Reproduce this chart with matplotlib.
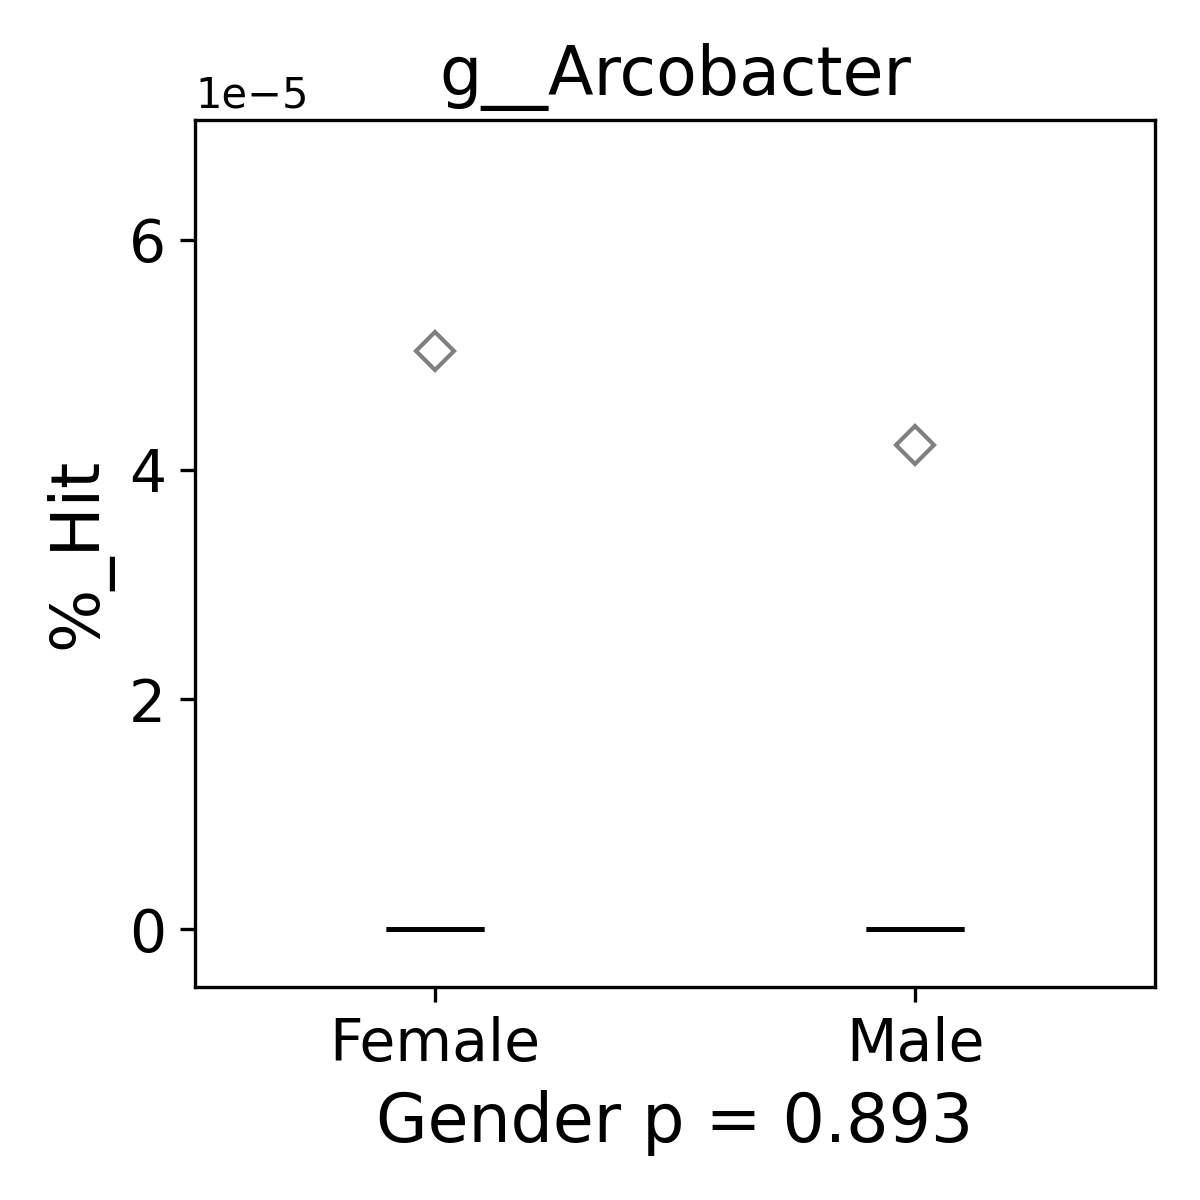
import matplotlib
matplotlib.use('Agg')
import matplotlib.pyplot as plt

groups = ['Female', 'Male']
female_hit = [0.0, 0.0, 0.0, 0.0, 0.0, 0.0, 0.0, 0.0, 0.0, 0.0, 0.0, 0.0, 5.03e-5]
male_hit = [0.0, 0.0, 0.0, 0.0, 0.0, 0.0, 0.0, 0.0, 0.0, 0.0, 0.0, 0.0, 4.21e-5]
p_value = 0.893
taxon = 'g__Arcobacter'

fig, ax = plt.subplots(figsize=(4, 4), dpi=300)

ax.boxplot([female_hit, male_hit], positions=[0, 1], widths=0.205,
           patch_artist=True,
           boxprops=dict(facecolor='white', edgecolor='0.3', linewidth=1.2),
           medianprops=dict(color='black', linewidth=1.2),
           whiskerprops=dict(color='0.3', linewidth=1.2),
           capprops=dict(color='0.3', linewidth=1.2),
           flierprops=dict(marker='D', markersize=6.4, markerfacecolor='none',
                           markeredgecolor='gray', markeredgewidth=1))

ymax = max(max(female_hit), max(male_hit))
ax.set_ylim(-0.1 * ymax, 1.4 * ymax)
ax.set_xlim(-0.5, 1.5)
ax.set_xticks([0, 1])
ax.set_xticklabels(groups)
ax.tick_params(labelsize=14)

ax.set_title(taxon, fontsize=16)
ax.set_ylabel('%_Hit', fontsize=16)
ax.set_xlabel('Gender p = {0}'.format(p_value), fontsize=16)

plt.subplots_adjust(left=0.1625, right=0.9625, bottom=0.1775, top=0.9)
plt.savefig('out.png')
